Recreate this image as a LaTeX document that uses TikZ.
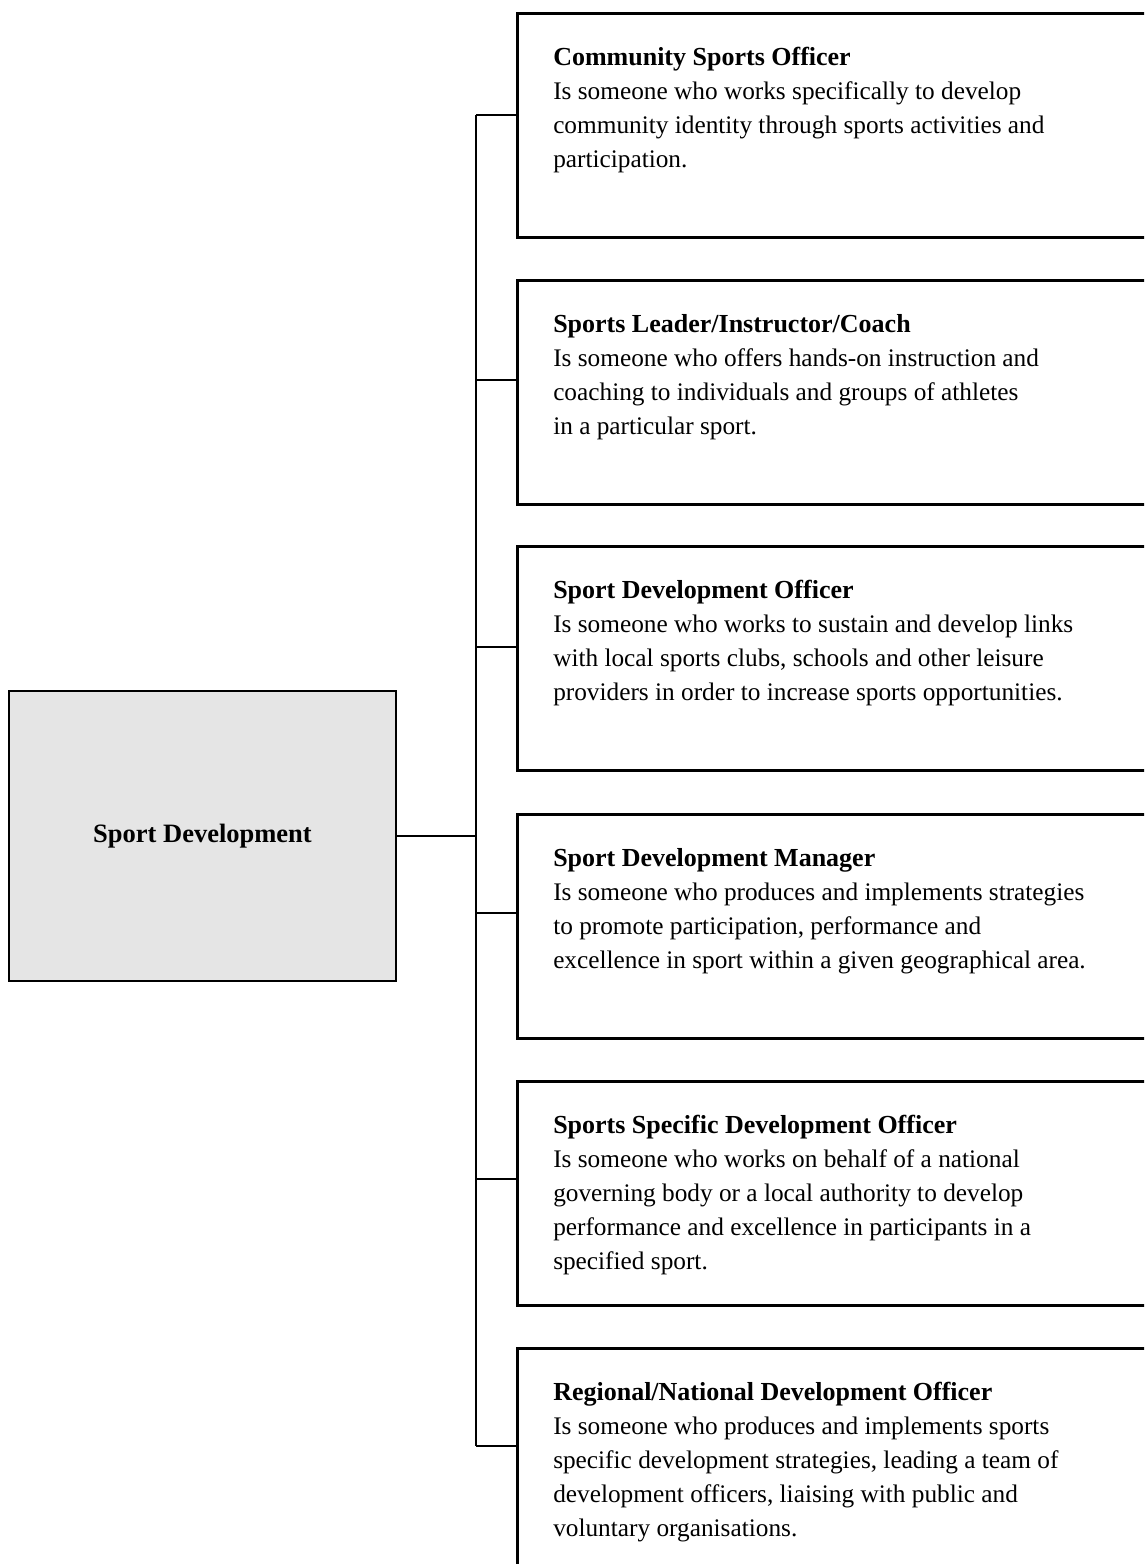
\documentclass[tikz,border=0pt]{standalone}
\usepackage{fontspec}
\setmainfont{Liberation Serif}
\usetikzlibrary{positioning}
\begin{document}
\begin{tikzpicture}[line width=2.5pt,
  rootbox/.style={draw,fill=black!10,minimum width=387pt,minimum height=290pt,inner sep=0pt,font=\fontsize{26.5}{34}\selectfont\bfseries},
  rolebox/.style={draw,anchor=north west,minimum width=660pt,minimum height=224pt,inner sep=0pt},
  roletext/.style={align=left,inner sep=0pt,font=\fontsize{25.3}{34}\selectfont},
  roletitle/.style={font=\fontsize{26}{34}\selectfont\bfseries}]
	\clip (0,0) rectangle (1144pt,-1564pt);
	\node [rootbox] (root) at (202.5pt,-836pt) {Sport Development};
	% role boxes
	\node [rolebox] (b1) at (516pt,-12pt) {};
	\node [rolebox] (b2) at (516pt,-279pt) {};
	\node [rolebox] (b3) at (516pt,-545pt) {};
	\node [rolebox] (b4) at (516pt,-813pt) {};
	\node [rolebox] (b5) at (516pt,-1080pt) {};
	\node [rolebox,minimum height=260pt] (b6) at (516pt,-1347pt) {};
	\node [roletext,below right=34pt and 36pt of b1.north west] (r1) {{\fontsize{26}{34}\selectfont\bfseries Community Sports Officer}\\
	  Is someone who works specifically to develop\\
	  community identity through sports activities and\\
	  participation.};
	\node [roletext,below right=34pt and 36pt of b2.north west] (r2) {{\fontsize{26}{34}\selectfont\bfseries Sports Leader/Instructor/Coach}\\
	  Is someone who offers hands-on instruction and\\
	  coaching to individuals and groups of athletes\\
	  in a particular sport.};
	\node [roletext,below right=34pt and 36pt of b3.north west] (r3) {{\fontsize{26}{34}\selectfont\bfseries Sport Development Officer}\\
	  Is someone who works to sustain and develop links\\
	  with local sports clubs, schools and other leisure\\
	  providers in order to increase sports opportunities.};
	\node [roletext,below right=34pt and 36pt of b4.north west] (r4) {{\fontsize{26}{34}\selectfont\bfseries Sport Development Manager}\\
	  Is someone who produces and implements strategies\\
	  to promote participation, performance and\\
	  excellence in sport within a given geographical area.};
	\node [roletext,below right=34pt and 36pt of b5.north west] (r5) {{\fontsize{26}{34}\selectfont\bfseries Sports Specific Development Officer}\\
	  Is someone who works on behalf of a national\\
	  governing body or a local authority to develop\\
	  performance and excellence in participants in a\\
	  specified sport.};
	\node [roletext,below right=34pt and 36pt of b6.north west] (r6) {{\fontsize{26}{34}\selectfont\bfseries Regional/National Development Officer}\\
	  Is someone who produces and implements sports\\
	  specific development strategies, leading a team of\\
	  development officers, liaising with public and\\
	  voluntary organisations.};
	% connectors
	\coordinate (t1) at (476pt,-115pt);
	\coordinate (t2) at (476pt,-380pt);
	\coordinate (t3) at (476pt,-647pt);
	\coordinate (t4) at (476pt,-913pt);
	\coordinate (t5) at (476pt,-1179pt);
	\coordinate (t6) at (476pt,-1446pt);
	\draw [line width=2.2pt] (t1) -- (t6);
	\draw [line width=2.2pt] (root.east) -- (root.east -| t1);
	\draw [line width=2.2pt] (t1) -- (t1 -| b1.west);
	\draw [line width=2.2pt] (t2) -- (t2 -| b2.west);
	\draw [line width=2.2pt] (t3) -- (t3 -| b3.west);
	\draw [line width=2.2pt] (t4) -- (t4 -| b4.west);
	\draw [line width=2.2pt] (t5) -- (t5 -| b5.west);
	\draw [line width=2.2pt] (t6) -- (t6 -| b6.west);
\end{tikzpicture}
\end{document}
